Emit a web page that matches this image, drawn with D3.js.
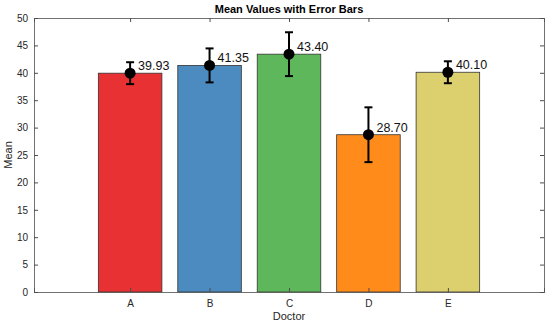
<!doctype html>
<html>
<head>
<meta charset="utf-8">
<title>Mean Values with Error Bars</title>
<script src="https://cdn.jsdelivr.net/npm/d3@7"></script>
<style>
    body { margin: 0; background: #fff; }
    svg text { font-family: "Liberation Sans", Arial, sans-serif; fill: #262626; }
    .axis path, .axis line { stroke: #4d4d4d; }
</style>
</head>
<body>
<div id="chart"></div>
<script>
// Data
var doctors = ["A", "B", "C", "D", "E"];
var means = [39.93, 41.35, 43.40, 28.70, 40.10];
var errors = [2.0, 3.1, 4.0, 5.0, 2.0];
var colors = ["#e73133", "#4b8bbf", "#5fb75c", "#ff8c1a", "#dccf6e"];
var yTicks = [0, 5, 10, 15, 20, 25, 30, 35, 40, 45, 50];

var W = 550, H = 327;
var margin = { top: 18, right: 6, bottom: 35, left: 34 };
var width = W - margin.left - margin.right,
    height = H - margin.top - margin.bottom;

var svg = d3.select("#chart").append("svg")
    .attr("width", W)
    .attr("height", H);

var g = svg.append("g")
    .attr("transform", "translate(" + margin.left + "," + margin.top + ")");

// Scales (bar positions 1..5 like matlab)
var x = d3.scaleLinear().domain([-0.21, 6.21]).range([0, width]);
var y = d3.scaleLinear().domain([0, 50]).range([height, 0]);
var barW = 0.8;

// Bars
g.selectAll("rect.bar")
    .data(means)
    .enter().append("rect")
    .attr("class", "bar")
    .attr("x", function(d, i) { return x(i + 1 - barW / 2); })
    .attr("width", function() { return x(barW) - x(0); })
    .attr("y", function(d) { return y(d); })
    .attr("height", function(d) { return y(0) - y(d); })
    .attr("fill", function(d, i) { return colors[i]; })
    .attr("stroke", "#333")
    .attr("stroke-width", 0.8);

// Error bars
var eb = g.selectAll("g.err")
    .data(means)
    .enter().append("g")
    .attr("class", "err");

eb.append("line")
    .attr("x1", function(d, i) { return x(i + 1); })
    .attr("x2", function(d, i) { return x(i + 1); })
    .attr("y1", function(d, i) { return y(d - errors[i]); })
    .attr("y2", function(d, i) { return y(d + errors[i]); })
    .attr("stroke", "#000")
    .attr("stroke-width", 2);

[-1, 1].forEach(function(s) {
    eb.append("line")
        .attr("x1", function(d, i) { return x(i + 1) - 4; })
        .attr("x2", function(d, i) { return x(i + 1) + 4; })
        .attr("y1", function(d, i) { return y(d + s * errors[i]); })
        .attr("y2", function(d, i) { return y(d + s * errors[i]); })
        .attr("stroke", "#000")
        .attr("stroke-width", 2);
});

eb.append("circle")
    .attr("cx", function(d, i) { return x(i + 1); })
    .attr("cy", function(d) { return y(d); })
    .attr("r", 5.5)
    .attr("fill", "#000");

// Value labels
eb.append("text")
    .attr("x", function(d, i) { return x(i + 1) + 8; })
    .attr("y", function(d) { return y(d) - 3; })
    .style("font-size", "12.5px")
    .style("fill", "#111")
    .text(function(d) { return d.toFixed(2); });

// Axes
var xAxis = d3.axisBottom(x).tickValues([1, 2, 3, 4, 5])
    .tickFormat(function(d) { return doctors[d - 1]; })
    .tickSize(-4).tickPadding(8);
var xTop = d3.axisTop(x).tickValues([1, 2, 3, 4, 5])
    .tickFormat("").tickSize(-4);
var yAxis = d3.axisLeft(y).tickValues(yTicks).tickSize(-4).tickPadding(6);
var yRight = d3.axisRight(y).tickValues(yTicks).tickFormat("").tickSize(-4);

g.append("g").attr("class", "axis")
    .attr("transform", "translate(0," + height + ")")
    .call(xAxis);
g.append("g").attr("class", "axis").call(xTop);
g.append("g").attr("class", "axis").call(yAxis);
g.append("g").attr("class", "axis")
    .attr("transform", "translate(" + width + ",0)")
    .call(yRight);

g.selectAll(".axis path").attr("stroke-width", 0.8);
g.selectAll(".axis text").style("font-size", "10px").style("fill", "#262626");

// Titles
svg.append("text")
    .attr("x", margin.left + width / 2)
    .attr("y", 13)
    .attr("text-anchor", "middle")
    .style("font-size", "11px")
    .style("font-weight", "bold")
    .style("fill", "#000")
    .text("Mean Values with Error Bars");

svg.append("text")
    .attr("x", margin.left + width / 2)
    .attr("y", 320)
    .attr("text-anchor", "middle")
    .style("font-size", "11px")
    .text("Doctor");

svg.append("text")
    .attr("transform", "translate(12," + (margin.top + height / 2) + ") rotate(-90)")
    .attr("text-anchor", "middle")
    .style("font-size", "11px")
    .text("Mean");
</script>
</body>
</html>
